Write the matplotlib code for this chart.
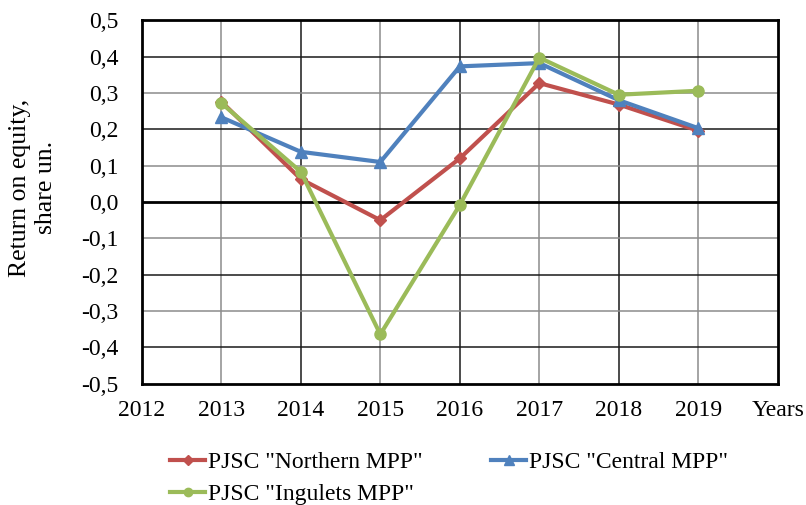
import matplotlib.pyplot as plt
from matplotlib.lines import Line2D

# Data
years = [2013, 2014, 2015, 2016, 2017, 2018, 2019]
northern = [0.276, 0.063, -0.050, 0.120, 0.327, 0.268, 0.196]
central = [0.233, 0.138, 0.110, 0.373, 0.382, 0.280, 0.203]
ingulets = [0.272, 0.083, -0.364, -0.008, 0.397, 0.295, 0.306]

x_ticks = [2012, 2013, 2014, 2015, 2016, 2017, 2018, 2019, 2020]
x_labels = ["2012", "2013", "2014", "2015", "2016", "2017", "2018", "2019", "Years"]
y_ticks = [-0.5, -0.4, -0.3, -0.2, -0.1, 0.0, 0.1, 0.2, 0.3, 0.4, 0.5]

plt.rcParams['font.family'] = ['Liberation Serif', 'DejaVu Serif']

red, blue, green = '#C0504D', '#4F81BD', '#9BBB59'

fig = plt.figure(figsize=(8.06, 5.05), dpi=100)
ax = fig.add_axes([0.176, 0.240, 0.789, 0.720])

# Grid lines alternate grey / black as in the source image
for i, t in enumerate(x_ticks[1:-1]):
    ax.axvline(t, color='#8c8c8c' if i % 2 == 0 else '#1a1a1a', lw=1.1, zorder=1)
for t in y_ticks[1:-1]:
    if abs(t) < 1e-9:
        ax.axhline(t, color='black', lw=2.0, zorder=1)
    else:
        k = int(round(t * 10))
        ax.axhline(t, color='#1a1a1a' if k % 2 == 0 else '#8c8c8c', lw=1.1, zorder=1)

ax.plot(years, northern, color=red, lw=3, marker='D', ms=6, zorder=3)
ax.plot(years, central, color=blue, lw=3, marker='^', ms=9, zorder=3)
ax.plot(years, ingulets, color=green, lw=3, marker='o', ms=8, zorder=4)

ax.set_xlim(2012, 2020)
ax.set_ylim(-0.5, 0.5)
ax.set_xticks(x_ticks)
ax.set_xticklabels(x_labels)
ax.set_yticks(y_ticks)
ax.set_yticklabels([('%.1f' % v).replace('.', ',') for v in y_ticks])
ax.tick_params(length=0, labelsize=17)
ax.tick_params(axis='x', pad=12)
ax.tick_params(axis='y', pad=17)
for s in ax.spines.values():
    s.set_linewidth(2.0)
    s.set_color('black')

fig.text(33 / 806, 0.628, 'Return on equity,\nshare un.', rotation=90,
         ha='center', va='center', fontsize=18.5, linespacing=1.25,
         multialignment='center')

# column-first fill: Northern, Ingulets in col 1; Central in col 2
handles = [Line2D([], [], color=red, lw=3, marker='D', ms=5),
           Line2D([], [], color=green, lw=3, marker='o', ms=6),
           Line2D([], [], color=blue, lw=3, marker='^', ms=7)]
labels = ['PJSC "Northern MPP"', 'PJSC "Ingulets MPP"', 'PJSC "Central MPP"']
fig.legend(handles, labels,
           loc='upper left', bbox_to_anchor=(0.211, 0.106), ncol=2, frameon=False,
           fontsize=17, handlelength=1.5, handletextpad=0.1, columnspacing=2.9,
           labelspacing=0.45, borderpad=0, borderaxespad=0)

fig.savefig('out.png', dpi=100)
